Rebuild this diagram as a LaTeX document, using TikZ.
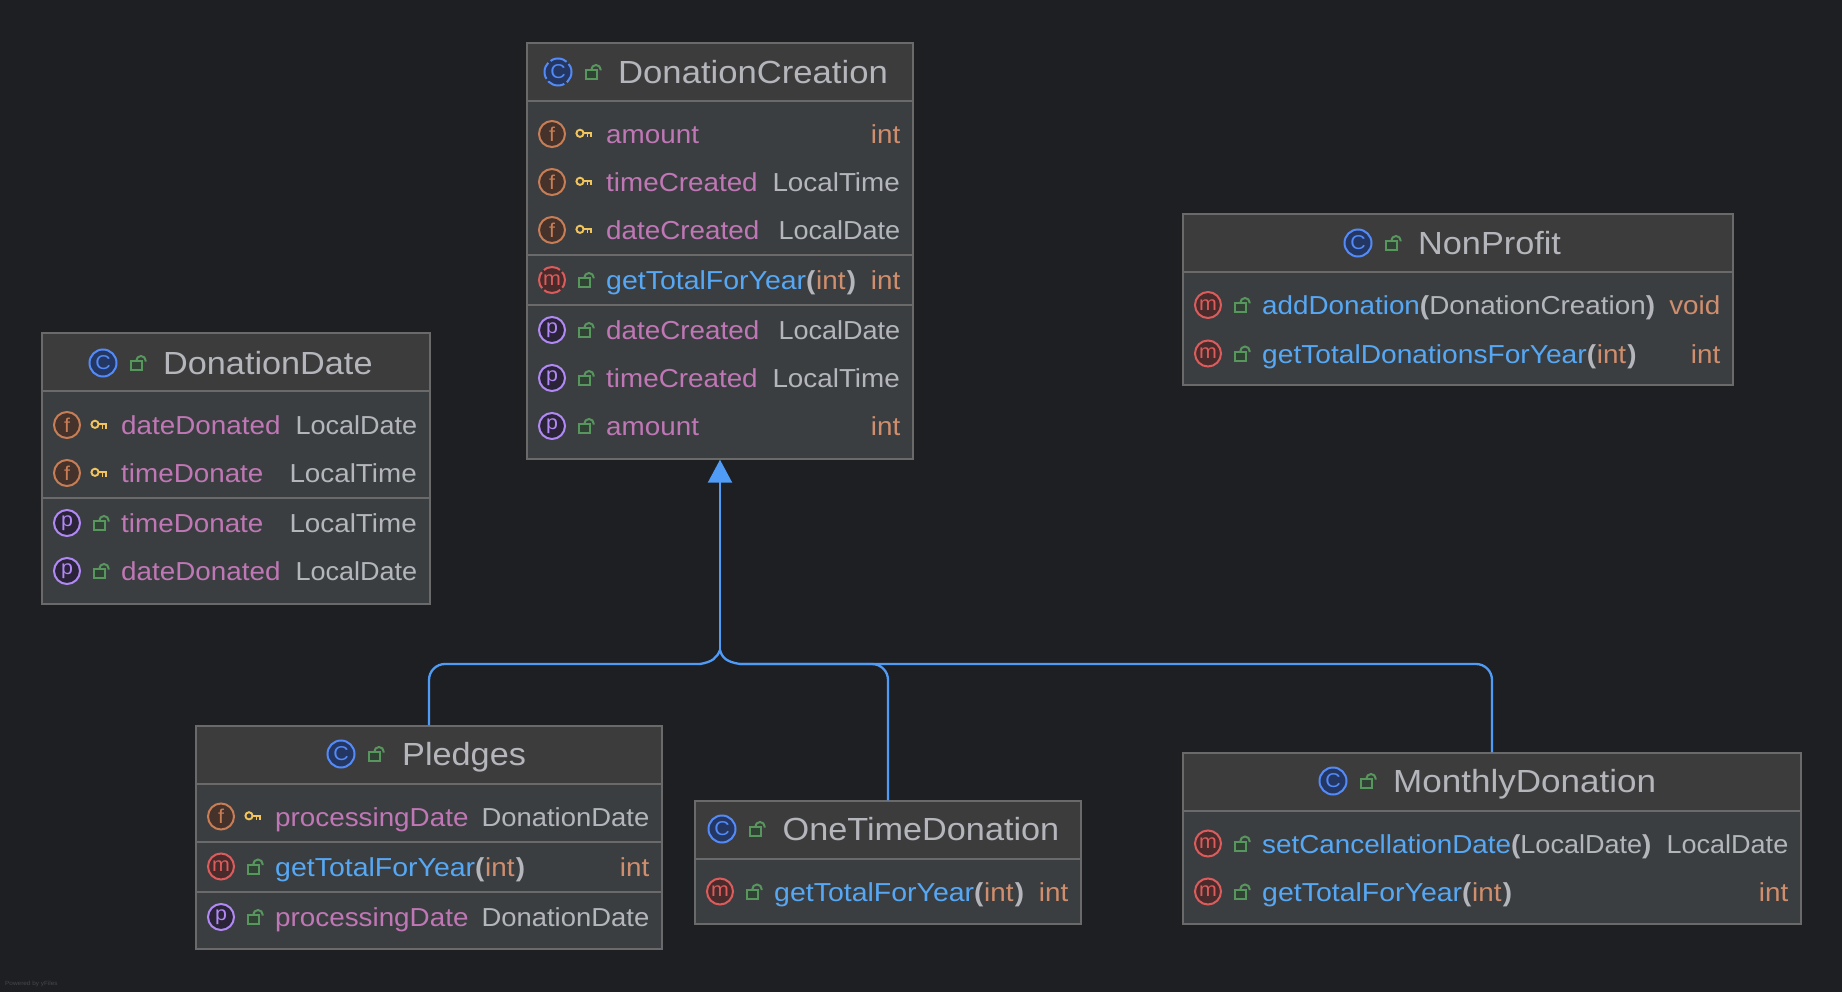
\documentclass[tikz,border=0pt]{standalone}
\usepackage{fontspec}
\setmainfont[FakeStretch=1.07]{Liberation Sans}
\newfontfamily\tighter[FakeStretch=1.04]{Liberation Sans}
\newfontfamily\midfont[FakeStretch=1.055]{Liberation Sans}
\newfontfamily\wider[FakeStretch=1.095]{Liberation Sans}
\newfontfamily\lesswider[FakeStretch=1.083]{Liberation Sans}
\usetikzlibrary{arrows.meta,fit,calc}
\definecolor{cbg}{HTML}{1E1F22}
\definecolor{cbody}{HTML}{3B3E41}
\definecolor{chead}{HTML}{3C3C3C}
\definecolor{cline}{HTML}{6A6A6A}
\definecolor{ctext}{HTML}{B4B6BC}
\definecolor{cpink}{HTML}{C077B5}
\definecolor{cblue}{HTML}{56A8F5}
\definecolor{corange}{HTML}{CF8E6D}
\definecolor{ckey}{HTML}{F2C55C}
\definecolor{clock}{HTML}{57965C}
\definecolor{clockfill}{HTML}{2F4234}
\definecolor{cedge}{HTML}{4F9BF5}
\definecolor{cticonC}{HTML}{548AF7}
\definecolor{ctintC}{HTML}{233762}
\definecolor{cticonF}{HTML}{C77D55}
\definecolor{ctintF}{HTML}{45322B}
\definecolor{cticonM}{HTML}{DB5C5C}
\definecolor{ctintM}{HTML}{4A2B2B}
\definecolor{cticonP}{HTML}{B189F5}
\definecolor{ctintP}{HTML}{2B2438}
\definecolor{cfoot}{HTML}{46474A}
\tikzset{
  x=1pt,y=-1pt,
  classbox/.style={draw=cline,line width=1.4pt,fill=cbody,inner sep=0pt,rectangle},
  sepline/.style={draw=cline,line width=1.4pt},
  rowtext/.style={inner sep=0pt,anchor=base west,font=\fontsize{26}{30}\selectfont},
  typetext/.style={inner sep=0pt,anchor=base east,font=\fontsize{26}{30}\selectfont,text=ctext},
  titletext/.style={inner sep=0pt,anchor=base west,font=\fontsize{32}{36}\selectfont,text=ctext},
  iconbase/.style={circle,inner sep=0pt,minimum size=26pt,line width=2pt,font=\fontsize{20}{22}\selectfont},
  iconF/.style={iconbase,draw=cticonF,fill=ctintF,text=cticonF},
  iconP/.style={iconbase,draw=cticonP,fill=ctintP,text=cticonP},
  iconM/.style={iconbase,draw=cticonM,fill=ctintM,text=cticonM},
  iconC/.style={iconbase,draw=cticonC,fill=ctintC,text=cticonC},
  gapped/.style={dash pattern=on 17.4pt off 3pt,dash phase=8.7pt},
  keyline/.style={draw=ckey,line width=1.9pt},
  lockline/.style={draw=clock,line width=2pt},
  edgeline/.style={draw=cedge,line width=2.3pt},
}
\newcount\nodeno
\newcommand{\nx}{\global\advance\nodeno by 1 }
\newcommand{\keyicon}[2]{%
  \draw[keyline] ({#1-4},{#2-0.7}) circle (3.6pt);
  \draw[keyline] ({#1-0.4},{#2-0.7}) -- ({#1+8},{#2-0.7}) ({#1+3.5},{#2-0.7}) -- ({#1+3.5},{#2+3.5}) ({#1+7.2},{#2-0.7}) -- ({#1+7.2},{#2+3.5});
}
\newcommand{\lockicon}[2]{%
  \draw[lockline,fill=clockfill] ({#1-7.5},{#2-2}) rectangle ({#1+3.5},{#2+7});
  \draw[lockline] ({#1-1.7},{#2-2}) -- ({#1-1.7},{#2-2.3}) arc[start angle=180,end angle=0,x radius=4.7pt,y radius=4.7pt] -- ({#1+7.7},{#2-1.5});
}
\newcommand{\classbox}[6]{% name,l,t,r,b,headerline
  \node[classbox,fit={(#2,#3)(#4,#5)}] (#1) {};
  \fill[chead] (#2,#3) rectangle (#4,#6);
  \draw[sepline] (#2,#6) -- (#4,#6);
  \draw[cline,line width=1.4pt] (#2,#3) rectangle (#4,#5);
}
\newcommand{\classtitle}[5][]{% iconx, y, text, textx
  \nx\node[iconC,minimum size=27pt,#1] (n\the\nodeno) at (#2,#3) {C};
  \lockicon{#2+35}{#3};
  \nx\node[titletext] (n\the\nodeno) at (#5,{#3+11.5}) {#4};
}
\newcommand{\sepat}[3]{\draw[sepline] (#1,#3) -- (#2,#3);}
\newcommand{\frow}[5]{%
  \nx\node[iconF] (n\the\nodeno) at ({#1+25},#3) {f};
  \keyicon{#1+57}{#3};
  \nx\node[rowtext,text=cpink] (n\the\nodeno) at ({#1+79},{#3+9.5}) {#4};
  \nx\node[typetext] (n\the\nodeno) at ({#2-12.5},{#3+9.5}) {#5};
}
\newcommand{\prow}[5]{%
  \nx\node[iconP] (n\the\nodeno) at ({#1+25},#3) {p};
  \lockicon{#1+59}{#3};
  \nx\node[rowtext,text=cpink] (n\the\nodeno) at ({#1+79},{#3+9.5}) {#4};
  \nx\node[typetext] (n\the\nodeno) at ({#2-12.5},{#3+9.5}) {#5};
}
\newcommand{\mrow}[6][]{%
  \nx\node[iconM,#1] (n\the\nodeno) at ({#2+25},#4) {m};
  \lockicon{#2+59}{#4};
  \nx\node[rowtext,text=cblue] (n\the\nodeno) at ({#2+79},{#4+9.5}) {#5};
  \nx\node[typetext] (n\the\nodeno) at ({#3-12.5},{#4+9.5}) {#6};
}
\newcommand{\lp}{{\bfseries\color{ctext}(}}
\newcommand{\rp}{{\bfseries\color{ctext})}}
\newcommand{\typeint}{\textcolor{corange}{int}}
\newcommand{\typevoid}{\textcolor{corange}{void}}
\newcommand{\argint}{\lp\kern0.8pt\textcolor{corange}{int}\kern1.2pt\rp}
\newcommand{\LD}{{\tighter LocalDate}}
\newcommand{\DD}{{\midfont DonationDate}}
\newcommand{\LT}{LocalTime\kern0.5pt}
\newcommand{\gtfy}{{\wider getTotalForYear}\argint}
\begin{document}
\begin{tikzpicture}
\useasboundingbox (0,0) rectangle (1842,992);
\fill[cbg] (0,0) rectangle (1842,992);

% DonationCreation
\classbox{dc}{527}{43}{913}{459}{101}
\classtitle[gapped]{558}{72}{{\lesswider DonationCreation}}{618}
\frow{527}{913}{134}{amount}{\typeint}
\frow{527}{913}{182}{timeCreated}{\LT}
\frow{527}{913}{230}{dateCreated}{\LD}
\sepat{527}{913}{255}
\mrow[gapped]{527}{913}{280}{\gtfy}{\typeint}
\sepat{527}{913}{305}
\prow{527}{913}{330}{dateCreated}{\LD}
\prow{527}{913}{378}{timeCreated}{\LT}
\prow{527}{913}{426}{amount}{\typeint}

% DonationDate
\classbox{dd}{42}{333}{430}{604}{391}
\classtitle{103}{363}{DonationDate}{163}
\frow{42}{430}{425}{dateDonated}{\LD}
\frow{42}{430}{473}{timeDonate}{\LT}
\sepat{42}{430}{498}
\prow{42}{430}{523}{timeDonate}{\LT}
\prow{42}{430}{571}{dateDonated}{\LD}

% NonProfit
\classbox{np}{1183}{214}{1733}{385}{272}
\classtitle{1358}{243}{NonProfit}{1418}
\mrow{1183}{1733}{305}{addDonation\lp\textcolor{ctext}{DonationCreation}\rp}{\typevoid}
\mrow{1183}{1733}{353.5}{{\lesswider getTotalDonationsForYear}\argint}{\typeint}

% Pledges
\classbox{pl}{196}{726}{662}{949}{784}
\classtitle{341}{754}{Pledges}{402}
\frow{196}{662}{816.5}{processingDate}{\DD}
\sepat{196}{662}{842}
\mrow{196}{662}{866.5}{\gtfy}{\typeint}
\sepat{196}{662}{892}
\prow{196}{662}{917}{processingDate}{\DD}

% OneTimeDonation
\classbox{ot}{695}{801}{1081}{924}{859}
\classtitle{722}{829}{OneTimeDonation}{782.5}
\mrow{695}{1081}{891.5}{\gtfy}{\typeint}

% MonthlyDonation
\classbox{md}{1183}{753}{1801}{924}{811}
\classtitle{1333}{781}{{\wider MonthlyDonation}}{1393}
\mrow{1183}{1801}{843.5}{setCancellationDate\lp\textcolor{ctext}{\LD}\rp}{\LD}
\mrow{1183}{1801}{891.5}{\gtfy}{\typeint}

% connectors
\coordinate (junction) at (dc.south |- 0,650);
\draw[edgeline,-{Triangle[width=24pt,length=23pt]}] (junction) -- (dc.south);
\draw[edgeline] (pl.north) -- (429,680) arc[start angle=180,end angle=90,x radius=16pt,y radius=16pt] -- (700,664) .. controls (712,662) and (717,658) .. (junction);
\draw[edgeline] (ot.north) -- (888,680) arc[start angle=0,end angle=90,x radius=16pt,y radius=16pt] -- (740,664) .. controls (727,662) and (722,658) .. (junction);
\draw[edgeline] (md.north) -- (1492,680) arc[start angle=0,end angle=90,x radius=16pt,y radius=16pt] -- (740,664);

\nx\node[inner sep=0pt,anchor=base west,text=cfoot,font=\fontsize{6}{8}\selectfont] (footer) at (5,985) {Powered by yFiles};
\end{tikzpicture}
\end{document}
